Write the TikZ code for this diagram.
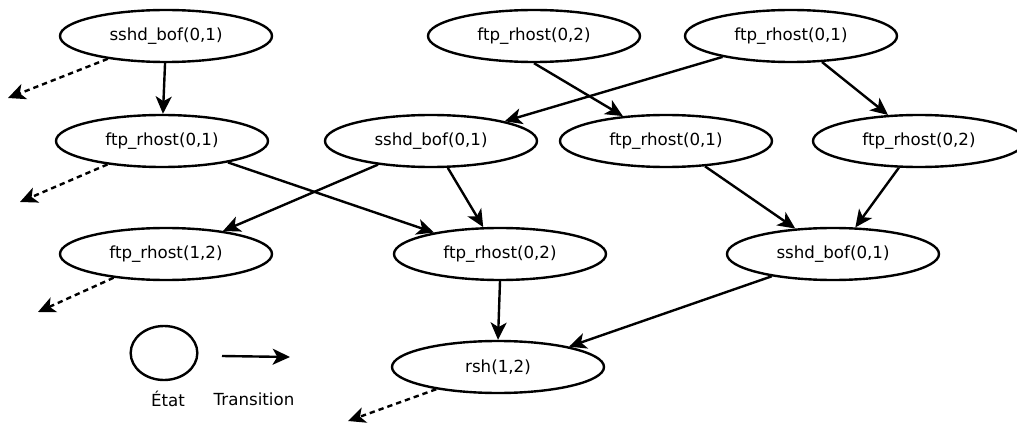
\documentclass[tikz,border=0pt]{standalone}
\usepackage{fontspec}
\setmainfont{DejaVu Sans}
\usetikzlibrary{arrows.meta,shapes.geometric}

\begin{document}
\begin{tikzpicture}[x=0.75pt,y=-0.75pt,
  every node/.style={font=\fontsize{12.5}{15}\selectfont},
  st/.style={draw=black,ellipse,line width=1.8pt,inner sep=0pt,minimum width=159pt,minimum height=39pt},
  lbl/.style={inner sep=0pt},
  ar/.style={-{Stealth[length=13pt,width=12pt,inset=3.5pt]},line width=1.8pt},
  dar/.style={ar,dash pattern=on 4pt off 3pt}]
\useasboundingbox (0,0) rectangle (1017,424);
\clip (0,0) rectangle (1017,424);
\node[st] (s1) at (166,36) {sshd\_bof(0,1)};
\node[st] (f02a) at (534,36) {ftp\_rhost(0,2)};
\node[st] (f01a) at (791,36) {ftp\_rhost(0,1)};
\node[st] (f01b) at (162,141) {ftp\_rhost(0,1)};
\node[st] (s2) at (431,141) {sshd\_bof(0,1)};
\node[st] (f01c) at (666,141) {ftp\_rhost(0,1)};
\node[st] (f02b) at (919,141) {ftp\_rhost(0,2)};
\node[st] (f12) at (166,254) {ftp\_rhost(1,2)};
\node[st] (f02c) at (500,254) {ftp\_rhost(0,2)};
\node[st] (s3) at (833,254) {sshd\_bof(0,1)};
\node[st] (rsh) at (498,367) {rsh(1,2)};
% legend
\node[st,minimum width=50pt,minimum height=40.5pt] (leg) at (164,353) {};
\coordinate (la) at (222,356);
\coordinate (lb) at (290,357);
\node[lbl] (etat) at (168,399) {État};
\node[lbl] (trans) at (254,399) {Transition};
\draw[ar] (la) -- (lb);
% free ends of the dashed arrows
\coordinate (d1) at (8,98);
\coordinate (d2) at (20,202);
\coordinate (d3) at (38,312);
\coordinate (d4) at (348,421);
\foreach \x/\y in {s1/d1,f01b/d2,f12/d3,rsh/d4} \draw[dar] (\x) -- (\y);
% transitions
\draw[ar] (s1.-92) -- (f01b.88);
\draw[ar] (f02a.-90) -- (f01c.150.3);
\draw[ar] (f01a.-163.8) -- (s2.15);
\draw[ar] (f01a.-40) -- (f02b.140.2);
\draw[ar] (f01b.-18.4) -- (f02c.162.9);
\draw[ar] (s2.-156.9) -- (f12.22.3);
\draw[ar] (s2.-58) -- (f02c.122.2);
\draw[ar] (f01c.-33.7) -- (s3.146.7);
\draw[ar] (f02b.-127.6) -- (s3.50.8);
\draw[ar] (f02c.-90) -- (rsh.90);
\draw[ar] (s3.-160.7) -- (rsh.16.1);
\end{tikzpicture}
\end{document}
